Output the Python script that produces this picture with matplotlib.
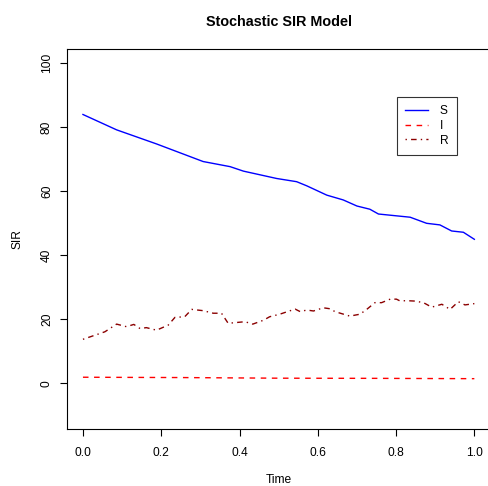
import matplotlib
matplotlib.use("Agg")
import matplotlib.pyplot as plt

plt.rcParams['font.family'] = ['Liberation Sans', 'DejaVu Sans']

# ---- data ----
s_time = [0.0, 0.086, 0.188, 0.307, 0.376, 0.41, 0.495, 0.546, 0.572, 0.623,
          0.665, 0.70, 0.733, 0.755, 0.836, 0.878, 0.912, 0.942, 0.972, 1.0]
s_values = [84.0, 79.2, 74.8, 69.3, 67.7, 66.3, 64.0, 63.0, 61.7, 58.8,
            57.3, 55.4, 54.4, 52.9, 51.9, 50.0, 49.5, 47.6, 47.2, 45.0]

i_time = [0.0, 0.25, 0.5, 0.75, 1.0]
i_values = [1.9, 1.8, 1.6, 1.55, 1.45]

r_time = [0.0, 0.056, 0.086, 0.111, 0.13, 0.146, 0.162, 0.188, 0.218, 0.235,
          0.26, 0.278, 0.307, 0.333, 0.354, 0.371, 0.401, 0.414, 0.434, 0.461,
          0.477, 0.503, 0.542, 0.555, 0.572, 0.589, 0.614, 0.631, 0.644, 0.682,
          0.708, 0.725, 0.746, 0.763, 0.785, 0.801, 0.809, 0.831, 0.848, 0.87,
          0.891, 0.917, 0.938, 0.959, 0.976, 1.0]
r_values = [13.75, 16.1, 18.5, 17.7, 18.4, 17.1, 17.4, 16.6, 18.2, 20.6,
            20.8, 23.1, 22.7, 21.9, 21.9, 18.75, 19.1, 19.25, 18.5, 19.7,
            20.8, 21.6, 23.2, 22.4, 22.9, 22.6, 23.6, 23.3, 22.4, 21.0,
            21.6, 23.1, 25.2, 25.2, 26.3, 26.3, 25.8, 25.8, 25.7, 25.2,
            23.8, 24.7, 23.1, 25.5, 24.5, 24.9]

series_labels = ["S", "I", "R"]
x_ticks = [0.0, 0.2, 0.4, 0.6, 0.8, 1.0]
x_ticklabels = ["0.0", "0.2", "0.4", "0.6", "0.8", "1.0"]
y_ticks = [0, 20, 40, 60, 80, 100]
y_ticklabels = ["0", "20", "40", "60", "80", "100"]

W, H = 489, 486
fig = plt.figure(figsize=(W / 100, H / 100), dpi=100)
left, right, top, bottom = 67.3, 490.0, 49.2, 429.4
ax = fig.add_axes([left / W, 1 - bottom / H, (right - left) / W, (bottom - top) / H])

ax.plot(s_time, s_values, color='blue', lw=1.0, linestyle='-', label=series_labels[0])
ax.plot(i_time, i_values, color='red', lw=1.0, linestyle=(0, (4, 4)), label=series_labels[1])
ax.plot(r_time, r_values, color='darkred', lw=1.0, linestyle=(0, (1, 3, 4, 3)), label=series_labels[2])

ax.set_xlim(-0.04, 1.04)
ax.set_ylim(-14.4, 104.4)

ax.set_xticks(x_ticks)
ax.set_xticklabels(x_ticklabels)
ax.set_yticks(y_ticks)
ax.set_yticklabels(y_ticklabels, rotation=90, va='center')

fs = 8.64
ax.tick_params(axis='both', direction='out', length=5.0, width=0.8, labelsize=fs,
               colors='black')
ax.tick_params(axis='x', pad=8)
ax.tick_params(axis='y', pad=5.3)
for sp in ax.spines.values():
    sp.set_linewidth(0.8)

ax.set_xlabel("Time", fontsize=fs, labelpad=10.5)
ax.set_ylabel("SIR", fontsize=fs, labelpad=12.5)
ax.set_title("Stochastic SIR Model", fontsize=10.4, fontweight='bold', pad=17)

leg = ax.legend(loc='upper left', bbox_to_anchor=((397 - left) / (right - left), 1 - (97 - top) / (bottom - top)),
                fontsize=fs, frameon=True, fancybox=False, shadow=False,
                handlelength=1.85, handletextpad=1.0, borderpad=0.7, labelspacing=0.22,
                borderaxespad=0)
leg.get_frame().set_edgecolor('black')
leg.get_frame().set_linewidth(0.8)

fig.savefig("out.png", dpi=100)
